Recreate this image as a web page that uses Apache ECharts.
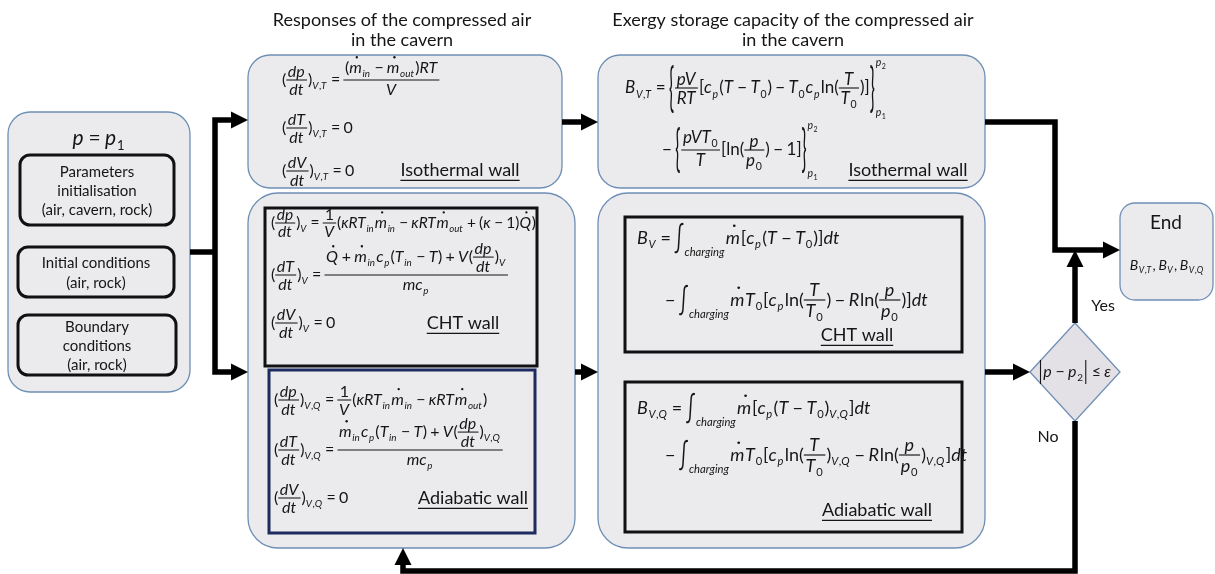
<!DOCTYPE html>
<html>
<head>
<meta charset="utf-8">
<script src="https://cdn.jsdelivr.net/npm/echarts@6/dist/echarts.min.js"></script>
<style>
  html, body { margin: 0; background: #fff; }
  #chart { width: 1215px; height: 574px; }
</style>
</head>
<body>
<div id="chart"></div>
<script>
const FONT = "Lato, 'DejaVu Sans', sans-serif";
const INK = '#151515';

// rounded grey containers: [x0, y0, x1, y1, radius]
const containers = [
  [8, 112, 190, 392, 22],
  [248, 55, 562, 188, 22],
  [598, 55, 985, 188, 22],
  [248, 193, 575, 548, 30],
  [598, 193, 985, 548, 30],
  [1120, 203, 1213, 300, 15]
];
// framed boxes: [x0, y0, x1, y1, radius, colour index]
const frameColors = ['#111111', '#1d2b5e'];
const frames = [
  [20, 155, 174, 225, 10, 0],
  [18, 247, 174, 297, 10, 0],
  [18, 315, 176, 375, 10, 0],
  [265, 208, 537, 366, 0, 0],
  [269, 370, 535, 533, 0, 1],
  [625, 217, 962, 352, 0, 0],
  [625, 382, 962, 532, 0, 0]
];
// flow lines, last point carries the arrow head when flagged
const connectors = [
  [[[190, 252], [215, 252]], false],
  [[[215, 252], [215, 120], [248, 120]], true],
  [[[215, 252], [215, 372], [248, 372]], true],
  [[[562, 122], [598, 122]], true],
  [[[575, 372], [598, 372]], true],
  [[[985, 372], [1030, 372]], true],
  [[[985, 122], [1055, 122], [1055, 250], [1120, 250]], true],
  [[[1075, 323], [1075, 250]], true],
  [[[1075, 421], [1075, 571], [403, 571], [403, 548]], true]
];
const diamond = [[1030, 372], [1075, 323], [1120, 372], [1075, 421]];

// plain text: [text, x, y, size, underline]
const labels = [
  ['Responses of the compressed air', 402, 20, 18, false],
  ['in the cavern', 402, 40, 18, false],
  ['Exergy storage capacity of the compressed air', 793, 20, 18, false],
  ['in the cavern', 793, 40, 18, false],
  ['Parameters', 97, 172, 15, false],
  ['initialisation', 97, 191, 15, false],
  ['(air, cavern, rock)', 97, 210, 15, false],
  ['Initial conditions', 96, 263, 15, false],
  ['(air, rock)', 96, 283, 15, false],
  ['Boundary', 97, 327, 15, false],
  ['conditions', 97, 346, 15, false],
  ['(air, rock)', 97, 365, 15, false],
  ['Isothermal wall', 460, 170, 18, true],
  ['Isothermal wall', 908, 170, 18, true],
  ['CHT wall', 463, 323, 18, true],
  ['Adiabatic wall', 473, 498, 18, true],
  ['CHT wall', 857, 335, 18, true],
  ['Adiabatic wall', 877, 510, 18, true],
  ['End', 1166, 223, 19, false],
  ['Yes', 1103, 306, 16, false],
  ['No', 1048, 437, 16, false]
];

// equations: [markup, x, axis y, size, align]
const formulas = [
  [String.raw`p = p_{1}`, 99, 138, 21, 'center'],
  [String.raw`(\f{dp}{dt})_{V,T} = \f{(\d{m}_{in} − \d{m}_{out})RT}{V}`, 282, 80, 16, 'left'],
  [String.raw`(\f{dT}{dt})_{V,T} = 0`, 282, 128, 16, 'left'],
  [String.raw`(\f{dV}{dt})_{V,T} = 0`, 282, 171, 16, 'left'],
  [String.raw`B_{V,T} = \B{lb}{58}\f{pV}{RT}[c_{p}(T − T_{0}) − T_{0}c_{p}\r{ln}(\f{T}{T_{0}})]\B{rb}{58}_{p_{1}}^{p_{2}}`, 625, 88, 17, 'left'],
  [String.raw`− \B{lb}{56}\f{pVT_{0}}{T}[\r{ln}(\f{p}{p_{0}}) − 1]\B{rb}{56}_{p_{1}}^{p_{2}}`, 662, 150, 17, 'left'],
  [String.raw`(\f{dp}{dt})_{V} = \f{1}{V}(κRT_{in}\d{m}_{in} − κRT\d{m}_{out} + (κ − 1)\d{Q})`, 271, 223, 15.5, 'left'],
  [String.raw`(\f{dT}{dt})_{V} = \f{\d{Q} + \d{m}_{in}c_{p}(T_{in} − T) + V(\f{dp}{dt})_{V}}{mc_{p}}`, 271, 275, 16, 'left'],
  [String.raw`(\f{dV}{dt})_{V} = 0`, 271, 323, 16, 'left'],
  [String.raw`(\f{dp}{dt})_{V,Q} = \f{1}{V}(κRT_{in}\d{m}_{in} − κRT\d{m}_{out})`, 274, 400, 16, 'left'],
  [String.raw`(\f{dT}{dt})_{V,Q} = \f{\d{m}_{in}c_{p}(T_{in} − T) + V(\f{dp}{dt})_{V,Q}}{mc_{p}}`, 274, 450, 16, 'left'],
  [String.raw`(\f{dV}{dt})_{V,Q} = 0`, 274, 498, 16, 'left'],
  [String.raw`B_{V} = \B{int}{34}_{charging}\d{m}[c_{p}(T − T_{0})]dt`, 637, 238, 18, 'left'],
  [String.raw`− \B{int}{34}_{charging}\d{m}T_{0}[c_{p}\r{ln}(\f{T}{T_{0}}) − R\r{ln}(\f{p}{p_{0}})]dt`, 665, 300, 18, 'left'],
  [String.raw`B_{V,Q} = \B{int}{34}_{charging}\d{m}[c_{p}(T − T_{0})_{V,Q}]dt`, 637, 408, 18, 'left'],
  [String.raw`− \B{int}{34}_{charging}\d{m}T_{0}[c_{p}\r{ln}(\f{T}{T_{0}})_{V,Q} − R\r{ln}(\f{p}{p_{0}})_{V,Q}]dt`, 665, 455, 18, 'left'],
  [String.raw`B_{V,T}, B_{V}, B_{V,Q}`, 1167, 265, 14, 'center'],
  [String.raw`\B{bar}{27}p − p_{2}\B{bar}{27} ≤ ε`, 1075, 372, 16, 'center']
];

// ---- tiny equation typesetter ----
const mctx = document.createElement('canvas').getContext('2d');
const fontOf = (size, it) => (it ? 'italic ' : '') + size.toFixed(1) + 'px ' + FONT;
const tw = (t, size, it) => { mctx.font = fontOf(size, it); return mctx.measureText(t).width; };
const BIG = { lb: '{', rb: '}', int: '∫', bar: '|' };

function parse(s) {
  let i = 0;
  const isIt = c => /[A-Za-zκε]/.test(c);
  const raw = () => { i++; const j = s.indexOf('}', i); const t = s.slice(i, j); i = j + 1; return t; };
  const arg = () => { i++; const g = seq(); i++; return g; };
  function seq() {
    const out = [];
    while (i < s.length && s[i] !== '}') {
      const c = s[i];
      if (c === '\\') {
        const cmd = s[i + 1]; i += 2;
        if (cmd === 'f') { const a = arg(); const b = arg(); out.push({ k: 'frac', a, b }); }
        else if (cmd === 'd') out.push({ k: 'dot', t: raw() });
        else if (cmd === 'r') out.push({ k: 'txt', t: raw(), it: false });
        else if (cmd === 'B') { const t = BIG[raw()]; const h = +raw(); out.push({ k: 'big', t, h }); }
      } else if (c === '_' || c === '^') { i++; out.push({ k: c === '_' ? 'sub' : 'sup', a: arg() }); }
      else if (c === ' ') { i++; out.push({ k: 'sp' }); }
      else {
        let j = i; const it = isIt(c);
        while (j < s.length && !'\\_^ {}'.includes(s[j]) && isIt(s[j]) === it) j++;
        out.push({ k: 'txt', t: s.slice(i, j), it }); i = j;
      }
    }
    return out;
  }
  return seq();
}

const shift = (p, dx, dy) => Object.assign({}, p, { x: p.x + dx, x1: p.x1 + dx, x2: p.x2 + dx, y: p.y + dy });

function lay(nodes, s) {
  const prims = [];
  let x = 0, up = 0.5 * s, dn = 0.42 * s, prev = { up: 0.5 * s, dn: 0.42 * s };
  for (let n = 0; n < nodes.length; n++) {
    const nd = nodes[n];
    if (nd.k === 'txt') {
      prims.push({ p: 'text', x, y: 0, t: nd.t, s, it: nd.it });
      x += tw(nd.t, s, nd.it) + (nd.it ? 0.04 * s : 0);
      prev = { up: 0.5 * s, dn: 0.42 * s };
    } else if (nd.k === 'dot') {
      const w = tw(nd.t, s, true);
      prims.push({ p: 'text', x, y: 0, t: nd.t, s, it: true });
      prims.push({ p: 'dot', x: x + w * 0.6, y: -0.68 * s, r: Math.max(1, s * 0.075) });
      x += w + 0.04 * s;
      prev = { up: 0.75 * s, dn: 0.42 * s };
    } else if (nd.k === 'sp') {
      x += 0.2 * s;
      continue;
    } else if (nd.k === 'frac') {
      const a = lay(nd.a, s), b = lay(nd.b, s);
      const w = Math.max(a.w, b.w) + 0.2 * s, g = 0.1 * s;
      a.prims.forEach(p => prims.push(shift(p, x + (w - a.w) / 2, -g - a.dn)));
      b.prims.forEach(p => prims.push(shift(p, x + (w - b.w) / 2, g + b.up)));
      prims.push({ p: 'line', x1: x, x2: x + w, x, y: 0, lw: Math.max(1, s * 0.065) });
      prev = { up: g + a.up + a.dn, dn: g + b.up + b.dn };
      x += w + 0.06 * s;
    } else if (nd.k === 'big') {
      prims.push({ p: 'big', x, y: 0, t: nd.t, s, h: nd.h });
      x += tw(nd.t, s, false) + 0.05 * s;
      prev = { up: nd.h / 2, dn: nd.h / 2 };
    } else {
      let sub = null, sup = null;
      if (nd.k === 'sub') sub = nd.a; else sup = nd.a;
      const nx = nodes[n + 1];
      if (nx && (nx.k === 'sub' || nx.k === 'sup') && nx.k !== nd.k) {
        if (nx.k === 'sub') sub = nx.a; else sup = nx.a;
        n++;
      }
      const ss = Math.max(7, s * 0.62);
      let w = 0;
      if (sub) {
        const l = lay(sub, ss);
        const dy = Math.max(0.38 * s, prev.dn - l.dn * 0.6);
        l.prims.forEach(p => prims.push(shift(p, x, dy)));
        w = Math.max(w, l.w); dn = Math.max(dn, dy + l.dn);
      }
      if (sup) {
        const l = lay(sup, ss);
        const dy = -Math.max(0.45 * s, prev.up - l.up * 0.7);
        l.prims.forEach(p => prims.push(shift(p, x, dy)));
        w = Math.max(w, l.w); up = Math.max(up, -dy + l.up);
      }
      x += w + 0.05 * s;
      continue;
    }
    up = Math.max(up, prev.up); dn = Math.max(dn, prev.dn);
  }
  return { prims, w: x, up, dn };
}

function toEls(prims, ox, oy) {
  return prims.map(p => {
    if (p.p === 'text') {
      return { type: 'text', x: ox + p.x, y: oy + p.y,
        style: { text: p.t, font: fontOf(p.s, p.it), fill: INK, align: 'left', verticalAlign: 'middle' } };
    }
    if (p.p === 'big') {
      return { type: 'text', x: ox + p.x, y: oy + p.y, scaleY: p.h / (1.1 * p.s), originX: 0, originY: 0,
        style: { text: p.t, font: fontOf(p.s, false), fill: INK, align: 'left', verticalAlign: 'middle' } };
    }
    if (p.p === 'line') {
      return { type: 'line', shape: { x1: ox + p.x1, y1: oy + p.y, x2: ox + p.x2, y2: oy + p.y },
        style: { stroke: INK, lineWidth: p.lw } };
    }
    return { type: 'circle', shape: { cx: ox + p.x, cy: oy + p.y, r: p.r }, style: { fill: INK } };
  });
}

const chart = echarts.init(document.getElementById('chart'));
chart.setOption({
  animation: false,
  grid: { left: 0, right: 0, top: 0, bottom: 0 },
  xAxis: { type: 'value', min: 0, max: 1215, show: false },
  yAxis: { type: 'value', min: 0, max: 574, inverse: true, show: false },
  series: [
    {
      type: 'custom',
      name: 'containers',
      data: containers,
      renderItem: (params, api) => {
        const [x0, y0, x1, y1, r] = containers[params.dataIndex];
        const a = api.coord([x0, y0]), b = api.coord([x1, y1]);
        return {
          type: 'rect',
          shape: { x: a[0], y: a[1], width: b[0] - a[0], height: b[1] - a[1], r },
          style: { fill: '#ebebed', stroke: '#6f8fb5', lineWidth: 1.3 }
        };
      }
    },
    {
      type: 'custom',
      name: 'frames',
      data: frames,
      renderItem: (params, api) => {
        const [x0, y0, x1, y1, r, c] = frames[params.dataIndex];
        const a = api.coord([x0, y0]), b = api.coord([x1, y1]);
        return {
          type: 'rect',
          shape: { x: a[0], y: a[1], width: b[0] - a[0], height: b[1] - a[1], r },
          style: { fill: '#ebebed', stroke: frameColors[c], lineWidth: 3 }
        };
      }
    },
    {
      type: 'custom',
      name: 'diamond',
      data: [diamond[0]],
      renderItem: (params, api) => ({
        type: 'polygon',
        shape: { points: diamond.map(p => api.coord(p)) },
        style: { fill: '#e3e1e5', stroke: '#6f8fb5', lineWidth: 1.3 }
      })
    },
    {
      type: 'custom',
      name: 'connectors',
      data: connectors.map(c => c[0][0]),
      renderItem: (params, api) => {
        const [pts, arrow] = connectors[params.dataIndex];
        const px = pts.map(p => api.coord(p));
        const children = [];
        if (arrow) {
          const n = px.length, tip = px[n - 1], from = px[n - 2];
          const dx = tip[0] - from[0], dy = tip[1] - from[1], len = Math.hypot(dx, dy);
          const ux = dx / len, uy = dy / len, L = 17, H = 8.5;
          const base = [tip[0] - ux * L, tip[1] - uy * L];
          px[n - 1] = [tip[0] - ux * (L - 2), tip[1] - uy * (L - 2)];
          children.push({
            type: 'polygon',
            shape: { points: [tip, [base[0] - uy * H, base[1] + ux * H], [base[0] + uy * H, base[1] - ux * H]] },
            style: { fill: '#000' }
          });
        }
        children.unshift({
          type: 'polyline',
          shape: { points: px },
          style: { stroke: '#000', lineWidth: 5.5, fill: null, lineJoin: 'miter' }
        });
        return { type: 'group', children };
      }
    },
    {
      type: 'custom',
      name: 'labels',
      data: labels.map(l => [l[1], l[2]]),
      renderItem: (params, api) => {
        const [text, x, y, size, underline] = labels[params.dataIndex];
        const c = api.coord([x, y]);
        const children = [{
          type: 'text', x: c[0], y: c[1],
          style: { text, font: fontOf(size, false), fill: INK, align: 'center', verticalAlign: 'middle' }
        }];
        if (underline) {
          const w = tw(text, size, false);
          children.push({
            type: 'line',
            shape: { x1: c[0] - w / 2, y1: c[1] + 0.58 * size, x2: c[0] + w / 2, y2: c[1] + 0.58 * size },
            style: { stroke: INK, lineWidth: 1.2 }
          });
        }
        return { type: 'group', children };
      }
    },
    {
      type: 'custom',
      name: 'formulas',
      data: formulas.map(f => [f[1], f[2]]),
      renderItem: (params, api) => {
        const [markup, x, y, size, align] = formulas[params.dataIndex];
        const box = lay(parse(markup), size);
        const c = api.coord([x, y]);
        const ox = align === 'center' ? c[0] - box.w / 2 : c[0];
        return { type: 'group', children: toEls(box.prims, ox, c[1]) };
      }
    }
  ]
});
</script>
</body>
</html>
